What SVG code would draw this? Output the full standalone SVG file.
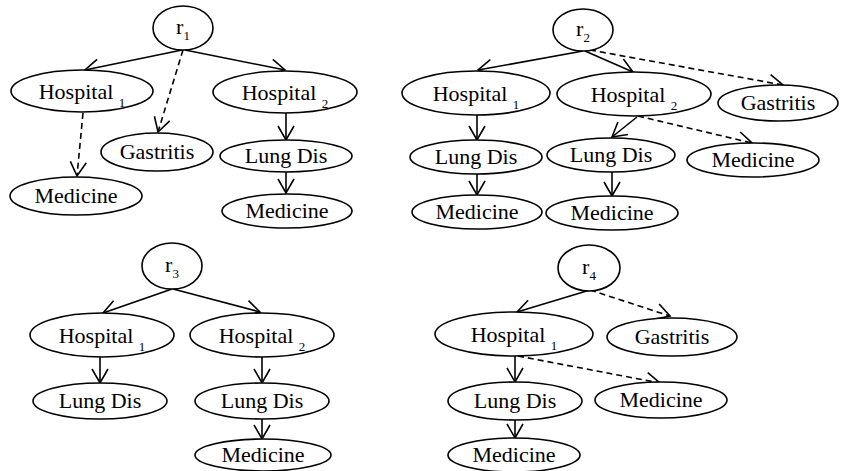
<svg xmlns="http://www.w3.org/2000/svg" width="844" height="471" viewBox="0 0 844 471">
  <style>
    .node ellipse { fill: #fff; stroke: #000; stroke-width: 1.6; }
    .node text { font-size: 22px; fill: #000; text-anchor: middle; }
    .node tspan.sub { font-size: 13px; }
    .edge { fill: none; stroke: #000; stroke-width: 1.6; marker-end: url(#open); }
    .dash { stroke-dasharray: 6 4; }
  </style>
  <defs>
    <marker id="open" markerUnits="userSpaceOnUse" markerWidth="20" markerHeight="20" refX="16" refY="10" orient="auto" viewBox="0 0 20 20">
      <path d="M2,2 L16,10 L2,18" fill="none" stroke="#000" stroke-width="1.6"/>
    </marker>
  </defs>
  <rect width="844" height="471" fill="#fff"/>

  <!-- connectors -->
  <g id="connectors">
    <!-- r1 -->
    <path class="edge" d="M182,50 L85,70"/>
    <path class="edge" d="M185,50 L285,70"/>
    <path class="edge dash" d="M183,50 L158,132"/>
    <path class="edge dash" d="M83,113 L77,176"/>
    <path class="edge" d="M286,113 L286,140"/>
    <path class="edge" d="M286,172 L286,193"/>
    <!-- r2 -->
    <path class="edge" d="M583,51 L478,70"/>
    <path class="edge" d="M585,51 L633,72"/>
    <path class="edge dash" d="M590,50 L783,85"/>
    <path class="edge" d="M477,115 L477,140"/>
    <path class="edge" d="M477,174 L477,195"/>
    <path class="edge" d="M637,117 L612,137"/>
    <path class="edge dash" d="M638,116 L752,143"/>
    <path class="edge" d="M612,172 L612,196"/>
    <!-- r3 -->
    <path class="edge" d="M172,289 L103,313"/>
    <path class="edge" d="M173,289 L260,312"/>
    <path class="edge" d="M100,357 L100,383"/>
    <path class="edge" d="M262,357 L262,383"/>
    <path class="edge" d="M262,419 L262,439"/>
    <!-- r4 -->
    <path class="edge" d="M590,290 L517,312"/>
    <path class="edge dash" d="M590,290 L670,316"/>
    <path class="edge" d="M515,356 L515,382"/>
    <path class="edge dash" d="M518,356 L660,383"/>
    <path class="edge" d="M515,420 L515,438"/>
  </g>

  <g id="nodes" font-family="Liberation Serif, DejaVu Serif, serif">
  <!-- tree r1 -->
  <g id="r1" class="node"><ellipse cx="183" cy="28" rx="30" ry="22"/><text x="183" y="34">r<tspan class="sub" dy="6">1</tspan></text></g>
  <g id="r1-hospital1" class="node"><ellipse cx="82" cy="91" rx="71" ry="21"/><text x="82" y="99">Hospital <tspan class="sub" dy="8">1</tspan></text></g>
  <g id="r1-hospital2" class="node"><ellipse cx="285" cy="92" rx="72" ry="21"/><text x="285" y="100">Hospital <tspan class="sub" dy="8">2</tspan></text></g>
  <g id="r1-gastritis" class="node"><ellipse cx="157" cy="152" rx="56" ry="19"/><text x="157" y="159">Gastritis</text></g>
  <g id="r1-medicine1" class="node"><ellipse cx="76" cy="196" rx="66" ry="19"/><text x="76" y="203">Medicine</text></g>
  <g id="r1-lungdis" class="node"><ellipse cx="286" cy="156" rx="66" ry="16"/><text x="286" y="163">Lung Dis</text></g>
  <g id="r1-medicine2" class="node"><ellipse cx="287" cy="211" rx="65" ry="17"/><text x="287" y="218">Medicine</text></g>

  <!-- tree r2 -->
  <g id="r2" class="node"><ellipse cx="583" cy="30" rx="30" ry="21"/><text x="583" y="36">r<tspan class="sub" dy="6">2</tspan></text></g>
  <g id="r2-hospital1" class="node"><ellipse cx="476" cy="93" rx="74" ry="22"/><text x="476" y="101">Hospital <tspan class="sub" dy="8">1</tspan></text></g>
  <g id="r2-hospital2" class="node"><ellipse cx="634" cy="94" rx="77" ry="22"/><text x="634" y="102">Hospital <tspan class="sub" dy="8">2</tspan></text></g>
  <g id="r2-gastritis" class="node"><ellipse cx="778" cy="103" rx="60" ry="18"/><text x="778" y="110">Gastritis</text></g>
  <g id="r2-lungdis1" class="node"><ellipse cx="476" cy="157" rx="66" ry="17"/><text x="476" y="164">Lung Dis</text></g>
  <g id="r2-medicine1" class="node"><ellipse cx="477" cy="212" rx="65" ry="17"/><text x="477" y="219">Medicine</text></g>
  <g id="r2-lungdis2" class="node"><ellipse cx="611" cy="155" rx="64" ry="17"/><text x="611" y="162">Lung Dis</text></g>
  <g id="r2-medicine2" class="node"><ellipse cx="612" cy="213" rx="66" ry="17"/><text x="612" y="220">Medicine</text></g>
  <g id="r2-medicine3" class="node"><ellipse cx="753" cy="160" rx="66" ry="17"/><text x="753" y="167">Medicine</text></g>

  <!-- tree r3 -->
  <g id="r3" class="node"><ellipse cx="172" cy="266" rx="30" ry="23"/><text x="172" y="272">r<tspan class="sub" dy="6">3</tspan></text></g>
  <g id="r3-hospital1" class="node"><ellipse cx="102" cy="335" rx="72" ry="22"/><text x="102" y="343">Hospital <tspan class="sub" dy="8">1</tspan></text></g>
  <g id="r3-hospital2" class="node"><ellipse cx="262" cy="335" rx="72" ry="22"/><text x="262" y="343">Hospital <tspan class="sub" dy="8">2</tspan></text></g>
  <g id="r3-lungdis1" class="node"><ellipse cx="100" cy="401" rx="67" ry="18"/><text x="100" y="408">Lung Dis</text></g>
  <g id="r3-lungdis2" class="node"><ellipse cx="262" cy="401" rx="67" ry="18"/><text x="262" y="408">Lung Dis</text></g>
  <g id="r3-medicine" class="node"><ellipse cx="263" cy="455" rx="68" ry="16"/><text x="263" y="462">Medicine</text></g>

  <!-- tree r4 -->
  <g id="r4" class="node"><ellipse cx="589" cy="268" rx="31" ry="23"/><text x="589" y="274">r<tspan class="sub" dy="6">4</tspan></text></g>
  <g id="r4-hospital1" class="node"><ellipse cx="514" cy="334" rx="79" ry="22"/><text x="514" y="342">Hospital <tspan class="sub" dy="8">1</tspan></text></g>
  <g id="r4-gastritis" class="node"><ellipse cx="672" cy="337" rx="65" ry="19"/><text x="672" y="344">Gastritis</text></g>
  <g id="r4-lungdis" class="node"><ellipse cx="515" cy="401" rx="67" ry="19"/><text x="515" y="408">Lung Dis</text></g>
  <g id="r4-medicine1" class="node"><ellipse cx="661" cy="400" rx="66" ry="18"/><text x="661" y="407">Medicine</text></g>
  <g id="r4-medicine2" class="node"><ellipse cx="514" cy="455" rx="66" ry="17"/><text x="514" y="462">Medicine</text></g>
  </g>
</svg>
